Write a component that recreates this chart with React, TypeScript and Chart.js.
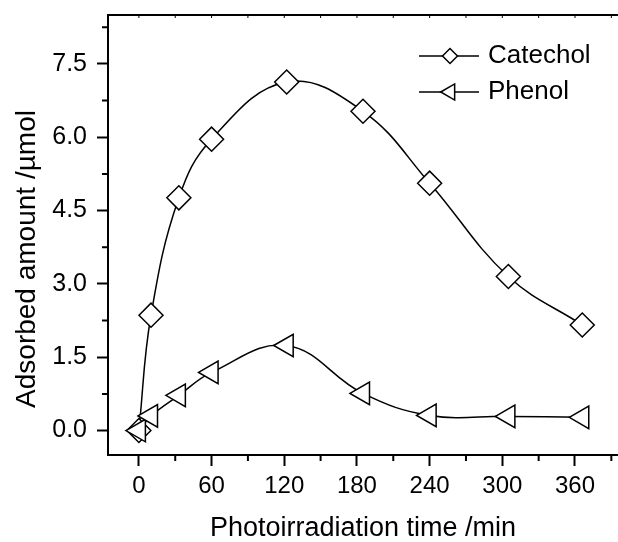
import React, { useEffect, useRef } from "react";
import { Chart, registerables } from "chart.js";

Chart.register(...registerables);

// ---- data ----
const timesMin = [0, 10, 33, 60, 122, 185, 240, 305, 366];
const catechol = [0, 2.36, 4.76, 5.96, 7.13, 6.53, 5.06, 3.15, 2.16];
const phenol = [0, 0.3, 0.72, 1.19, 1.74, 0.76, 0.31, 0.29, 0.27];
const xMajorTicks = [0, 60, 120, 180, 240, 300, 360];
const xMinorTicks = [30, 90, 150, 210, 270, 330, 390];
const xTopTicks = [0, 30, 60, 90, 120, 150, 180, 210, 240, 270, 300, 330, 360, 390];
const yMajorTicks = [0, 1.5, 3, 4.5, 6, 7.5];
const yMinorTicks = [0.75, 2.25, 3.75, 5.25, 6.75, 8.25];
const xRange = [-25.5, 395.5];
const yRange = [-0.5, 8.5];
const seriesNames = ["Catechol", "Phenol"];
const xTitle = "Photoirradiation time /min";
const yTitle = "Adsorbed amount /µmol";

const FONT = "'Liberation Sans', Arial, Helvetica, sans-serif";

function drawDiamond(ctx: CanvasRenderingContext2D, x: number, y: number, r: number) {
  ctx.beginPath();
  ctx.moveTo(x - r, y);
  ctx.lineTo(x, y - r);
  ctx.lineTo(x + r, y);
  ctx.lineTo(x, y + r);
  ctx.closePath();
  ctx.fill();
  ctx.stroke();
}

function drawLeftTriangle(ctx: CanvasRenderingContext2D, x: number, y: number, r: number) {
  ctx.beginPath();
  ctx.moveTo(x - r, y);
  ctx.lineTo(x + r / 2, y - (r * Math.sqrt(3)) / 2);
  ctx.lineTo(x + r / 2, y + (r * Math.sqrt(3)) / 2);
  ctx.closePath();
  ctx.fill();
  ctx.stroke();
}

const decorPlugin = {
  id: "decor",
  afterDraw(chart: any) {
    const { ctx, chartArea: ca, scales } = chart;
    const xs = scales.x;
    const ys = scales.y;
    ctx.save();
    ctx.strokeStyle = "#000";
    // minor ticks (outward)
    ctx.lineWidth = 2;
    ctx.beginPath();
    for (const v of xMinorTicks) {
      const px = xs.getPixelForValue(v);
      if (px > ca.right) continue;
      ctx.moveTo(px, ca.bottom);
      ctx.lineTo(px, ca.bottom + 6);
    }
    for (const v of yMinorTicks) {
      const py = ys.getPixelForValue(v);
      ctx.moveTo(ca.left, py);
      ctx.lineTo(ca.left - 6, py);
    }
    ctx.stroke();
    // top border
    ctx.beginPath();
    ctx.moveTo(ca.left - 1, ca.top);
    ctx.lineTo(ca.right, ca.top);
    ctx.stroke();
    // tiny inward ticks on top border
    ctx.lineWidth = 1;
    ctx.beginPath();
    for (const v of xTopTicks) {
      const px = xs.getPixelForValue(v);
      if (px > ca.right) continue;
      ctx.moveTo(px, ca.top);
      ctx.lineTo(px, ca.top + 3);
    }
    ctx.stroke();

    // y axis title
    ctx.save();
    ctx.translate(35, 259);
    ctx.rotate(-Math.PI / 2);
    ctx.fillStyle = "#000";
    ctx.font = `28px ${FONT}`;
    ctx.textAlign = "center";
    ctx.textBaseline = "alphabetic";
    ctx.fillText(yTitle, 0, 0);
    ctx.restore();

    // legend
    const rows = [56, 92];
    ctx.lineWidth = 1.5;
    rows.forEach((y, i) => {
      ctx.beginPath();
      ctx.moveTo(419, y);
      ctx.lineTo(479, y);
      ctx.stroke();
      ctx.fillStyle = "#fff";
      if (i === 0) drawDiamond(ctx, 450, y, 7.5);
      else drawLeftTriangle(ctx, 450, y, 9.3);
      ctx.fillStyle = "#000";
      ctx.font = `26px ${FONT}`;
      ctx.textBaseline = "middle";
      ctx.textAlign = "left";
      ctx.fillText(seriesNames[i], 488, y);
    });
    ctx.restore();
  },
};

export default function App() {
  const ref = useRef<HTMLCanvasElement | null>(null);
  useEffect(() => {
    if (!ref.current) return;
    const chart = new Chart(ref.current, {
      type: "line",
      data: {
        datasets: [
          {
            label: seriesNames[1],
            data: timesMin.map((t, i) => ({ x: t, y: phenol[i] })),
            borderColor: "#000",
            borderWidth: 1.5,
            tension: 0.4,
            fill: false,
            pointStyle: "triangle",
            pointRotation: -90,
            pointRadius: 13,
            pointBackgroundColor: "#fff",
            pointBorderColor: "#000",
            pointBorderWidth: 1.5,
          },
          {
            label: seriesNames[0],
            data: timesMin.map((t, i) => ({ x: t, y: catechol[i] })),
            borderColor: "#000",
            borderWidth: 1.5,
            tension: 0.4,
            fill: false,
            pointStyle: "rectRot",
            pointRadius: 12,
            pointBackgroundColor: "#fff",
            pointBorderColor: "#000",
            pointBorderWidth: 1.5,
          },
        ],
      },
      options: {
        animation: false,
        responsive: false,
        maintainAspectRatio: false,
        layout: { autoPadding: false, padding: { left: 0, top: 15, right: 0, bottom: 0 } },
        plugins: { legend: { display: false }, tooltip: { enabled: false } },
        scales: {
          x: {
            type: "linear",
            min: xRange[0],
            max: xRange[1],
            afterBuildTicks: (s: any) => {
              s.ticks = xMajorTicks.map((v) => ({ value: v }));
            },
            afterFit: (s: any) => {
              s.height = 87;
              s.paddingLeft = 0;
              s.paddingRight = 0;
              s.paddingTop = 0;
              s.paddingBottom = 0;
            },
            grid: { drawOnChartArea: false, drawTicks: true, tickLength: 11, tickWidth: 2, tickColor: "#000" },
            border: { display: true, color: "#000", width: 2 },
            ticks: {
              font: { family: FONT, size: 24 },
              color: "#000",
              padding: 6,
              maxRotation: 0,
              autoSkip: false,
              callback: (v: any) => String(v),
            },
            title: {
              display: true,
              text: xTitle,
              font: { family: FONT, size: 27, lineHeight: 1 },
              color: "#000",
              padding: { top: 0, bottom: 0 },
            },
          },
          y: {
            type: "linear",
            min: yRange[0],
            max: yRange[1],
            afterBuildTicks: (s: any) => {
              s.ticks = yMajorTicks.map((v) => ({ value: v }));
            },
            afterFit: (s: any) => {
              s.width = 108;
              s.paddingLeft = 0;
              s.paddingRight = 0;
              s.paddingTop = 0;
              s.paddingBottom = 0;
            },
            grid: { drawOnChartArea: false, drawTicks: true, tickLength: 11, tickWidth: 2, tickColor: "#000" },
            border: { display: true, color: "#000", width: 2 },
            ticks: {
              font: { family: FONT, size: 25 },
              color: "#000",
              padding: 10,
              autoSkip: false,
              callback: (v: any) => Number(v).toFixed(1),
            },
            title: { display: false },
          },
        },
      },
      plugins: [decorPlugin],
    } as any);
    return () => chart.destroy();
  }, []);

  return (
    <div style={{ position: "fixed", left: 0, top: 0, width: 618, height: 542, background: "#fff" }}>
      <canvas ref={ref} width={618} height={542} style={{ display: "block" }} />
    </div>
  );
}
